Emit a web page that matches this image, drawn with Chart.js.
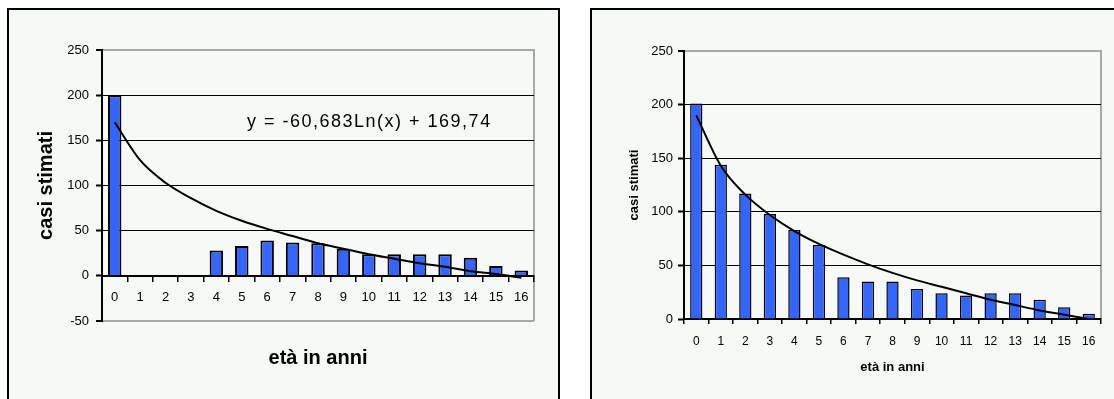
<!DOCTYPE html>
<html>
<head>
<meta charset="utf-8">
<script src="https://cdn.jsdelivr.net/npm/chart.js@4"></script>
<style>
  body { margin: 0; background: #fff; overflow: hidden; width: 1114px; height: 399px; position: relative; }
  .box { position: absolute; border: 2px solid #000; background: #f6faf6; }
  #boxLeft { left: 7px; top: 8px; width: 549px; height: 400px; }
  #boxRight { left: 590px; top: 8px; width: 530px; height: 400px; }
  canvas { display: block; }
</style>
</head>
<body>
<div class="box" id="boxLeft"><canvas id="chartLeft" width="549" height="390"></canvas></div>
<div class="box" id="boxRight"><canvas id="chartRight" width="522" height="390"></canvas></div>
<script>
// dati
const eta = ['0', '1', '2', '3', '4', '5', '6', '7', '8', '9', '10', '11', '12', '13', '14', '15', '16'];
const casiSinistra = [200, null, null, null, 28, 33, 39, 37, 36, 30, 24, 24, 24, 24, 20, 11, 6];
const tendenzaSinistra = [170, 128, 103, 86, 72, 61, 52, 44, 36, 30, 24, 19, 14, 10, 5, 2, -2];
const casiDestra = [201, 144, 117, 98, 83, 69, 39, 35, 35, 28, 24, 22, 24, 24, 18, 11, 5];
const tendenzaDestra = [190, 143, 116, 97, 82, 70, 60, 51, 43, 36, 30, 24, 18, 13, 8, 4, 0];
const yTicksSinistra = { min: -50, max: 250, step: 50 };
const yTicksDestra = { min: 0, max: 250, step: 50 };
const equazione = 'y = -60,683Ln(x) + 169,74';
const titoloY = 'casi stimati';
const titoloX = 'età in anni';

Chart.defaults.font.family = 'Arial, "Liberation Sans", sans-serif';
Chart.defaults.color = '#000';

const grigio = '#a8a8a8';
const blu = '#3366ff';

// bordo grigio a destra dell'area del grafico
const cornice = {
  id: 'cornice',
  beforeDraw(chart) {
    const { ctx, chartArea: a } = chart;
    ctx.save();
    ctx.strokeStyle = grigio;
    ctx.lineWidth = 2;
    ctx.beginPath();
    ctx.moveTo(a.right, a.top - 1);
    ctx.lineTo(a.right, a.bottom);
    ctx.stroke();
    ctx.restore();
  }
};

const etichettaEquazione = {
  id: 'etichettaEquazione',
  afterDatasetsDraw(chart) {
    const ctx = chart.ctx;
    ctx.save();
    ctx.font = '18px Arial, "Liberation Sans", sans-serif';
    ctx.fillStyle = '#000';
    ctx.textBaseline = 'alphabetic';
    ctx.letterSpacing = '1.5px';
    ctx.fillText(equazione, 238, 117);
    ctx.restore();
  }
};

function bordoGriglia(min, max) {
  return {
    color: ctx => (ctx.tick && (ctx.tick.value === max || ctx.tick.value === min && min < 0)) ? grigio : '#000',
    lineWidth: ctx => (ctx.tick && (ctx.tick.value === max || ctx.tick.value === min && min < 0)) ? 2 : 1,
    tickLength: 6,
    tickColor: '#000',
    tickWidth: 2
  };
}

new Chart(document.getElementById('chartLeft'), {
  type: 'bar',
  data: {
    labels: eta,
    datasets: [
      {
        type: 'line',
        data: tendenzaSinistra,
        borderColor: '#000',
        borderWidth: 2,
        pointRadius: 0,
        cubicInterpolationMode: 'monotone',
        order: 0
      },
      {
        data: casiSinistra,
        backgroundColor: blu,
        borderColor: '#000',
        borderWidth: 2,
        barPercentage: 0.53,
        categoryPercentage: 1,
        order: 1
      }
    ]
  },
  options: {
    responsive: false,
    animation: false,
    layout: { padding: { left: 0, right: 24, top: 40, bottom: 30 } },
    plugins: {
      legend: { display: false },
      tooltip: { enabled: false },
      title: {
        display: true,
        position: 'bottom',
        fullSize: false,
        text: titoloX,
        font: { size: 20, weight: 'bold' },
        padding: { top: 25, bottom: 0 }
      }
    },
    scales: {
      x: {
        position: { y: 0 },
        offset: true,
        grid: { offset: true, drawOnChartArea: false, tickLength: 5, color: '#000', lineWidth: 1.5 },
        border: { color: '#000', width: 2 },
        ticks: { font: { size: 13 }, padding: 9, maxRotation: 0, autoSkip: false }
      },
      y: {
        min: yTicksSinistra.min,
        max: yTicksSinistra.max,
        ticks: { stepSize: yTicksSinistra.step, font: { size: 13 }, padding: 7 },
        grid: bordoGriglia(yTicksSinistra.min, yTicksSinistra.max),
        border: { color: '#000', width: 2 },
        title: { display: true, text: titoloY, font: { size: 20, weight: 'bold' }, padding: { top: 25, bottom: 0 } },
        afterFit: s => { s.width = 93; }
      }
    }
  },
  plugins: [cornice, etichettaEquazione]
});

new Chart(document.getElementById('chartRight'), {
  type: 'bar',
  data: {
    labels: eta,
    datasets: [
      {
        type: 'line',
        data: tendenzaDestra,
        borderColor: '#000',
        borderWidth: 2,
        pointRadius: 0,
        cubicInterpolationMode: 'monotone',
        order: 0
      },
      {
        data: casiDestra,
        backgroundColor: blu,
        borderColor: '#000',
        borderWidth: 1.5,
        barPercentage: 0.5,
        categoryPercentage: 1,
        order: 1
      }
    ]
  },
  options: {
    responsive: false,
    animation: false,
    layout: { padding: { left: 0, right: 13, top: 41, bottom: 21 } },
    plugins: {
      legend: { display: false },
      tooltip: { enabled: false }
    },
    scales: {
      x: {
        position: 'bottom',
        offset: true,
        grid: { offset: true, drawOnChartArea: false, tickLength: 5, color: '#000', lineWidth: 1.5 },
        border: { color: '#000', width: 2 },
        ticks: { font: { size: 12 }, padding: 10, maxRotation: 0, autoSkip: false },
        title: { display: true, text: titoloX, font: { size: 13, weight: 'bold' }, padding: { top: 0, bottom: 4 } },
        afterFit: s => { s.height = 60; }
      },
      y: {
        min: yTicksDestra.min,
        max: yTicksDestra.max,
        ticks: { stepSize: yTicksDestra.step, font: { size: 13 }, padding: 5 },
        grid: bordoGriglia(yTicksDestra.min, yTicksDestra.max),
        border: { color: '#000', width: 2 },
        title: { display: true, text: titoloY, font: { size: 13, weight: 'bold' }, padding: { top: 35, bottom: 0 } },
        afterFit: s => { s.width = 92; }
      }
    }
  },
  plugins: [cornice]
});
</script>
</body>
</html>
